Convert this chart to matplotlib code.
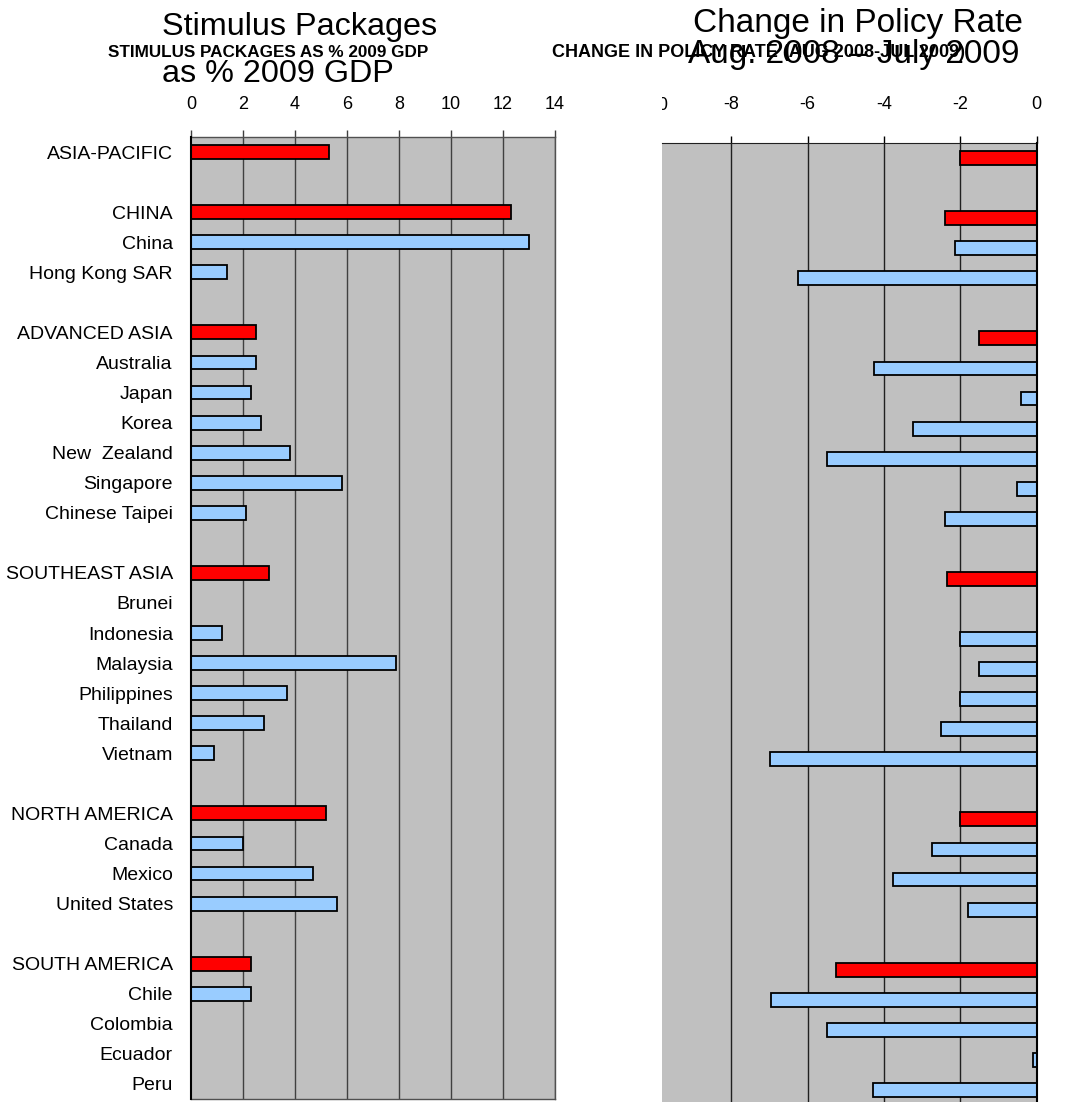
import numpy as np
import matplotlib
matplotlib.use("Agg")
import matplotlib.pyplot as plt
from matplotlib.transforms import Bbox, TransformedBbox, blended_transform_factory

plt.rcParams['font.family'] = ['Liberation Sans', 'DejaVu Sans']

# ---- data ----
categories = ["ASIA-PACIFIC", "", "CHINA", "China", "Hong Kong SAR", "",
              "ADVANCED ASIA", "Australia", "Japan", "Korea", "New  Zealand",
              "Singapore", "Chinese Taipei", "",
              "SOUTHEAST ASIA", "Brunei", "Indonesia", "Malaysia", "Philippines",
              "Thailand", "Vietnam", "",
              "NORTH AMERICA", "Canada", "Mexico", "United States", "",
              "SOUTH AMERICA", "Chile", "Colombia", "Ecuador", "Peru"]
is_region = [1, 0, 1, 0, 0, 0,
             1, 0, 0, 0, 0, 0, 0, 0,
             1, 0, 0, 0, 0, 0, 0, 0,
             1, 0, 0, 0, 0,
             1, 0, 0, 0, 0]
nan = np.nan
stimulus = [5.3, nan, 12.3, 13.0, 1.4, nan,
            2.5, 2.5, 2.3, 2.7, 3.8, 5.8, 2.1, nan,
            3.0, nan, 1.2, 7.9, 3.7, 2.8, 0.9, nan,
            5.2, 2.0, 4.7, 5.6, nan,
            2.3, 2.3, nan, nan, nan]
policy_change = [-2.0, nan, -2.4, -2.15, -6.25, nan,
                 -1.5, -4.25, -0.4, -3.25, -5.5, -0.5, -2.4, nan,
                 -2.35, nan, -2.0, -1.5, -2.0, -2.5, -7.0, nan,
                 -2.0, -2.75, -3.75, -1.8, nan,
                 -5.25, -6.95, -5.5, -0.1, -4.3]
stim_ticks = [0, 2, 4, 6, 8, 10, 12, 14]
rate_ticks = [-8, -6, -4, -2, 0]

RED = "#FF0000"
BLUE = "#99CCFF"
GRAY = "#C0C0C0"

W, H = 1072, 1102
fig = plt.figure(figsize=(W / 100, H / 100), dpi=100)

def fx(px):
    return px / W

def fy(py):
    return 1 - py / H

n = len(categories)
row_h = (1099 - 137) / n
colors = [RED if r else BLUE for r in is_region]
ypos = np.arange(n)

# ---- left panel ----
axL = fig.add_axes([fx(191), fy(1099), fx(555 - 191), (1099 - 137) / H])
axL.set_facecolor(GRAY)
axL.barh(ypos, np.nan_to_num(stimulus), height=0.46, color=colors,
         edgecolor="black", linewidth=1.3, zorder=3)
axL.set_xlim(0, 14)
axL.set_ylim(n - 0.5, -0.5)
axL.set_yticks(ypos)
axL.set_yticklabels(categories, fontsize=14)
axL.tick_params(axis='y', length=0, pad=13)
axL.xaxis.tick_top()
axL.set_xticks(stim_ticks)
axL.set_xticklabels([str(t) for t in stim_ticks], fontsize=13)
axL.tick_params(axis='x', direction='out', length=5, width=1, color='#404040', pad=12)
for t in stim_ticks[1:]:
    axL.axvline(t, color='#404040', lw=1.0, zorder=1)
axL.spines['left'].set_color('black')
axL.spines['left'].set_linewidth(1.5)
axL.spines['left'].set_zorder(4)
for s in ['top', 'bottom', 'right']:
    axL.spines[s].set_color('#505050')
    axL.spines[s].set_linewidth(1.0)

# ---- right panel ----
top_r = 143
axR = fig.add_axes([fx(662), fy(top_r + n * row_h), fx(1036.5 - 662), n * row_h / H])
axR.set_facecolor(GRAY)
axR.barh(ypos, np.nan_to_num(policy_change), height=0.46, color=colors,
         edgecolor="black", linewidth=1.3, zorder=3)
axR.set_xlim(-9.82, 0)
axR.set_ylim(n - 0.5, -0.5)
axR.set_yticks([])
axR.xaxis.tick_top()
axR.set_xticks(rate_ticks)
axR.set_xticklabels([str(t) for t in rate_ticks], fontsize=13)
axR.tick_params(axis='x', direction='out', length=5, width=1, color='black', pad=16.5)
for t in rate_ticks[:-1]:
    axR.axvline(t, color='#202020', lw=1.0, zorder=1)
axR.spines['left'].set_visible(False)
axR.spines['bottom'].set_visible(False)
axR.spines['top'].set_color('#202020')
axR.spines['right'].set_color('black')
axR.spines['right'].set_linewidth(1.5)
axR.spines['right'].set_zorder(4)

# clipped "-10" tick label at the panel's left edge
tr = blended_transform_factory(axR.transData, fig.transFigure)
clip_t = axR.text(-10, fy(110), "-10", fontsize=13, ha='center', va='baseline',
                  transform=tr)
clip_t.set_clip_box(TransformedBbox(Bbox([[fx(662), 0], [fx(700), 1]]), fig.transFigure))
clip_t.set_clip_on(True)

# ---- titles ----
fig.text(fx(162), fy(35), "Stimulus Packages", fontsize=23.3, ha='left', va='baseline')
fig.text(fx(162), fy(82), "as % 2009 GDP", fontsize=23.3, ha='left', va='baseline')
fig.text(fx(268), fy(57), "STIMULUS PACKAGES AS % 2009 GDP", fontsize=12.3,
         fontweight='bold', ha='center', va='baseline')
fig.text(fx(693), fy(32), "Change in Policy Rate", fontsize=24, ha='left', va='baseline')
fig.text(fx(688), fy(63), "Aug. 2008 \u2013 July 2009", fontsize=24, ha='left', va='baseline')
fig.text(fx(758), fy(57), "CHANGE IN POLICY RATE (AUG 2008-JUL 2009)", fontsize=13,
         fontweight='bold', ha='center', va='baseline')

fig.savefig("out.png", dpi=100)
